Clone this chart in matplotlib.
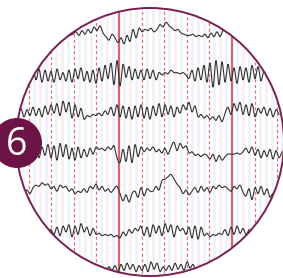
import numpy as np
import matplotlib
matplotlib.use("Agg")
import matplotlib.pyplot as plt
from matplotlib.patches import Circle

# --- data: trace deflections (px, up positive), sampled every 3 px ---
row_baselines = [33, 75, 112, 153, 190, 232, 268]
row_starts = [70, 30, 18, 33, 24, 48, 100]
trace1 = [-2, -1, 1, -2, 2, -1, 3, 0, 5, 2, 6, 0, -3, -6, -1, -4, -8, -4, -9, -2, -7, 3, -4, 4, 1, 3, 2, 4, 1, 3,
          7, 5, 9, 6, 4, 2, 3, 0, -1, -2, -2, -1, -3, -2, -3, -1, -4, 0, -3, 1, -3, 2, 3]
trace2 = [0, 6, -4, 5, -6, 4, -5, 3, -6, 5, -4, 2, -5, 4, -6, 5, -3, 6, -5, 3, -6, 4, -7, 6, -5, 8, -3, 10, -8, 12,
          -9, 9, -2, 7, -4, 5, -3, 4, -4, 5, -3, 4, -4, 2, 0, 2, 1, 4, 2, 2, 1, 2, 0, -3, 4, -5, 6, -4, 8, -6,
          10, -10, 12, -8, 11, -6, 9, -5, 6, -7, 7, -4, 6, -6, 8, -3, 7, -5, 4, -2, 2]
trace3 = [-2, 3, -4, 2, -3, 4, -3, 3, -4, 5, -2, 6, -1, 7, -3, 9, 0, 8, -5, 6, -4, 3, -6, -3, -4, -2, -3, -1, -3, 1,
          -2, 4, -3, 6, -4, 5, -5, 4, -6, 5, -4, 6, -5, 4, -6, 5, -3, 7, -4, 6, -2, 5, -4, 4, -1, 6, 2, 8, 0, 5,
          -4, -2, -5, -3, -6, -4, -7, -3, -8, -1, 4, -2, 7, 1, 8, -2, 6, -3, 7, -4, 3, -1, 4, -3, 3, -4, 2, -2]
trace4 = [-3, 2, -4, 5, -2, 7, -4, 6, -6, 8, -3, 7, -5, 4, -6, 5, -4, 3, -3, 4, -1, 5, 3, 4, 2, 5, 3, 6, -4, -8,
          3, -7, 6, -8, 7, -3, 5, 1, 4, 2, 5, 1, 3, 0, 4, -1, 5, 9, 2, 8, 4, 6, 0, 1, -2, -1, -3, -1, -2, -5,
          -1, -7, -2, -6, -3, -1, -1, -1, 0, -1, 1, 4, 0, 5, -2, 3, -4, 2, -3, 3, -5, 2, -4, 1]
trace5 = [-4, 0, -3, 2, 4, 3, 6, 4, 5, 1, 3, -1, 4, 2, 3, -1, 1, -3, -1, -2, 1, -2, 3, 1, 5, 0, 3, -1, 1, -2,
          1, 3, -3, -9, -4, -10, -3, -1, -6, 2, -5, 1, -1, -1, 3, 0, 8, 9, 11, 13, 9, 5, 2, -3, 0, -4, -1, 2, -2, 3,
          -1, 2, -2, 3, 1, 4, 2, 3, 1, -1, 3, 1, 4, -2, -5, 1, -8, 2, -3, 3, -4, 1, -6, -3, -9, -1]
trace6 = [-1, 2, -2, 4, -3, 5, 0, 6, -4, 5, -2, 7, 0, 4, -3, 3, -2, -1, -3, -2, -3, -2, -4, -3, -5, 0, -3, 2, -1, 3,
          1, 5, -3, 4, -4, 6, -1, 5, -3, 7, 0, 6, -4, 5, 1, 3, -2, 4, -5, 5, -6, 4, -3, -1, -4, -2, -3, -1, -2, 2,
          -3, 4, -2, 5, -1, 3, -2, 2]
trace7 = [-3, 0, -2, 1, -2, 2, -3, 3, -2, 4, -1, 3, -3, 2, -2, 3, -3, 5, -1, 4, -3, 1, -2, 2, -2, 4, -1, 3, -2, 5,
          0, 3, -2, 1]
traces = [trace1, trace2, trace3, trace4, trace5, trace6, trace7]

grid_start, grid_step, grid_count, major_every = 28.5, 22.6, 12, 5
amp_scale = 1.2


def catmull_rom(x, y, n=6):
    """Smooth curve through the given points (rendering only)."""
    x = np.asarray(x, float)
    y = np.asarray(y, float)
    xp = np.concatenate([[2 * x[0] - x[1]], x, [2 * x[-1] - x[-2]]])
    yp = np.concatenate([[2 * y[0] - y[1]], y, [2 * y[-1] - y[-2]]])
    t = np.linspace(0, 1, n, endpoint=False)
    xs, ys = [], []
    for i in range(1, len(xp) - 2):
        for P, out in ((xp, xs), (yp, ys)):
            p0, p1, p2, p3 = P[i - 1], P[i], P[i + 1], P[i + 2]
            out.append(0.5 * ((2 * p1) + (-p0 + p2) * t + (2 * p0 - 5 * p1 + 4 * p2 - p3) * t ** 2
                              + (-p0 + 3 * p1 - 3 * p2 + p3) * t ** 3))
    xs.append([x[-1]])
    ys.append([y[-1]])
    return np.concatenate(xs), np.concatenate(ys)


W, H = 283, 278
fig = plt.figure(figsize=(W / 100, H / 100), dpi=100)
ax = fig.add_axes([0, 0, 1, 1])
ax.set_xlim(0, W)
ax.set_ylim(H, 0)
ax.axis("off")

cx, cy, r = 150, 142, 134
clip = Circle((cx, cy), r, transform=ax.transData)

# faint background stripes
for i in range(-1, grid_count):
    gx = grid_start + i * grid_step
    for off, col in [(5, "#edf3f9"), (11, "#f8eff1"), (17, "#edf3f9")]:
        ln, = ax.plot([gx + off, gx + off], [0, H], color=col, lw=2.0, zorder=1)
        ln.set_clip_path(clip)

# grid lines
for i in range(grid_count):
    gx = grid_start + i * grid_step
    if (i - 4) % major_every == 0:
        ln, = ax.plot([gx, gx], [0, H], color="#d9646c", lw=1.6, zorder=2)
    else:
        ln, = ax.plot([gx, gx], [0, H], color="#e0707a", lw=0.9, ls=(0, (2.5, 2)), zorder=2)
    ln.set_clip_path(clip)

# traces
for base, start, tr in zip(row_baselines, row_starts, traces):
    x = start + 3 * np.arange(len(tr))
    y = base - amp_scale * np.array(tr, dtype=float)
    xs, ys = catmull_rom(x, y)
    ln, = ax.plot(xs, ys, color="#333333", lw=0.8, zorder=3, solid_joinstyle="round")
    ln.set_clip_path(clip)

# circle outline
ax.add_patch(Circle((cx, cy), r, fill=False, ec="#7b1f52", lw=1.4, zorder=4))

# badge
ax.add_patch(Circle((17, 143), 25, fc="#6d1446", ec="none", zorder=5))
ax.text(17, 145, "6", color="white", fontsize=27, family="Open Sans",
        ha="center", va="center", zorder=6)

fig.savefig("out.png", dpi=100)
